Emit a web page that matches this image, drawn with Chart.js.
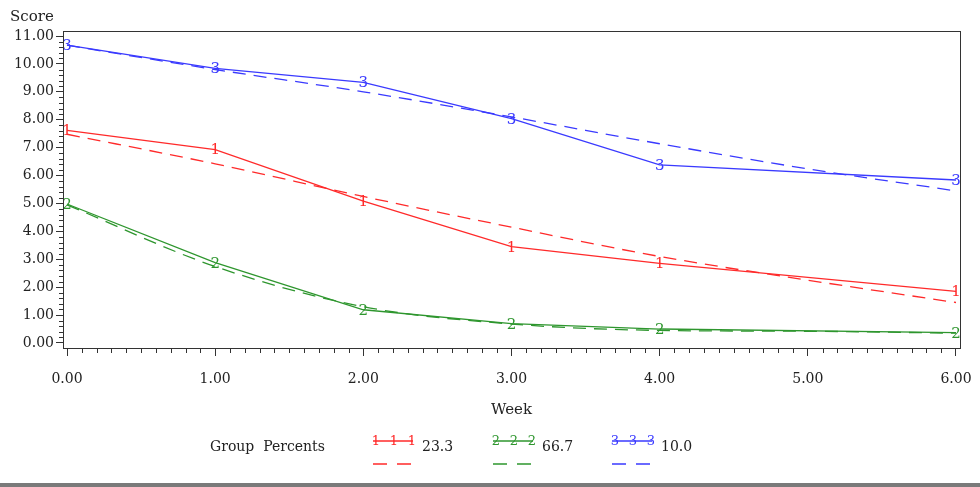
<!DOCTYPE html>
<html>
<head>
<meta charset="utf-8">
<script src="https://cdn.jsdelivr.net/npm/chart.js@4.4.0/dist/chart.umd.min.js"></script>
<style>
  html, body { margin: 0; padding: 0; background: #fff; overflow: hidden; }
  #wrap { width: 980px; height: 487px; position: relative; }
</style>
</head>
<body>
<div id="wrap"><canvas id="myChart" width="980" height="487"></canvas></div>
<script>
// observed group means (weeks 0-4 and 6)
const weeks = [0, 1, 2, 3, 4, 6];
const group1 = [7.62, 6.93, 5.08, 3.45, 2.85, 1.85];
const group2 = [4.98, 2.88, 1.19, 0.69, 0.50, 0.37];
const group3 = [10.67, 9.84, 9.34, 8.04, 6.38, 5.84];

// predicted trajectories (dashed)
const predWeeks = [0, 1, 2, 3, 4, 5, 6];
const pred1 = [7.48, 6.42, 5.25, 4.15, 3.10, 2.25, 1.45];
const pred2 = [4.95, 2.74, 1.30, 0.68, 0.45, 0.42, 0.35];
const pred3 = [10.67, 9.80, 9.00, 8.10, 7.14, 6.24, 5.45];

const groupNames = ['1', '2', '3'];
const groupPercents = ['23.3', '66.7', '10.0'];
const colors = ['#ff2a2a', '#2e962e', '#3a3aff'];

const xTicks = [0, 1, 2, 3, 4, 5, 6];
const yTicks = [0, 1, 2, 3, 4, 5, 6, 7, 8, 9, 10, 11];

const FONT = "'DejaVu Serif', serif";

const pts = (xs, ys) => xs.map((x, i) => ({x: x, y: ys[i]}));

const obs = [group1, group2, group3];
const preds = [pred1, pred2, pred3];

const datasets = [];
obs.forEach((d, i) => {
    datasets.push({
        label: groupNames[i],
        data: pts(weeks, d),
        borderColor: colors[i],
        borderWidth: 1.3,
        pointRadius: 0,
        marker: groupNames[i],
        tension: 0
    });
});
preds.forEach((d, i) => {
    datasets.push({
        label: 'pred' + groupNames[i],
        data: pts(predWeeks, d),
        borderColor: colors[i],
        borderWidth: 1.3,
        borderDash: [13, 8],
        pointRadius: 0,
        tension: 0.4,
        cubicInterpolationMode: 'monotone'
    });
});

// draws the frame, minor ticks, group number markers, titles and legend
const extras = {
    id: 'extras',
    afterDatasetsDraw(chart) {
        const ctx = chart.ctx;
        chart.data.datasets.forEach((ds, i) => {
            if (!ds.marker) return;
            const meta = chart.getDatasetMeta(i);
            ctx.save();
            ctx.fillStyle = ds.borderColor;
            ctx.font = "15px " + FONT;
            ctx.textAlign = 'center';
            ctx.textBaseline = 'middle';
            meta.data.forEach(el => ctx.fillText(ds.marker, el.x, el.y + 1));
            ctx.restore();
        });
    },
    afterDraw(chart) {
        const ctx = chart.ctx;
        const a = chart.chartArea;
        const xs = chart.scales.x, ys = chart.scales.y;
        ctx.save();
        ctx.strokeStyle = '#333';
        ctx.lineWidth = 1;
        ctx.strokeRect(a.left + 0.5, a.top + 0.5, a.right - a.left, a.bottom - a.top);

        // minor ticks
        ctx.beginPath();
        for (let k = 1; k < 60; k++) {
            if (k % 10 === 0) continue;
            const px = Math.round(xs.getPixelForValue(k / 10)) + 0.5;
            ctx.moveTo(px, a.bottom);
            ctx.lineTo(px, a.bottom + 5);
        }
        for (let k = 1; k < 55; k++) {
            if (k % 5 === 0) continue;
            const py = Math.round(ys.getPixelForValue(k / 5)) + 0.5;
            ctx.moveTo(a.left, py);
            ctx.lineTo(a.left - 4, py);
        }
        ctx.stroke();

        // axis titles
        ctx.fillStyle = '#222';
        ctx.font = "15px " + FONT;
        ctx.textBaseline = 'middle';
        ctx.textAlign = 'left';
        ctx.fillText('Score', 10, 17);
        ctx.textAlign = 'center';
        ctx.fillText('Week', (xs.left + xs.right) / 2, 410);

        // legend
        ctx.font = "14px " + FONT;
        ctx.textAlign = 'left';
        ctx.fillText('Group  Percents', 210, 447);
        const lx = [373, 493, 612];
        groupNames.forEach((g, i) => {
            const x0 = lx[i];
            ctx.strokeStyle = colors[i];
            ctx.lineWidth = 1.3;
            ctx.setLineDash([]);
            ctx.beginPath();
            ctx.moveTo(x0, 441);
            ctx.lineTo(x0 + 40, 441);
            ctx.stroke();
            ctx.fillStyle = colors[i];
            ctx.font = "13px " + FONT;
            ctx.textAlign = 'center';
            [3, 21, 39].forEach(o => ctx.fillText(g, x0 + o, 442));
            ctx.setLineDash([14, 10]);
            ctx.beginPath();
            ctx.moveTo(x0, 464);
            ctx.lineTo(x0 + 42, 464);
            ctx.stroke();
            ctx.setLineDash([]);
            ctx.fillStyle = '#222';
            ctx.font = "14px " + FONT;
            ctx.textAlign = 'left';
            ctx.fillText(groupPercents[i], x0 + 49, 447);
        });

        // bottom rule of the picture
        ctx.fillStyle = '#7a7a7a';
        ctx.fillRect(0, 483, 980, 4);
        ctx.restore();
    }
};

new Chart(document.getElementById('myChart').getContext('2d'), {
    type: 'line',
    data: { datasets: datasets },
    plugins: [extras],
    options: {
        responsive: false,
        animation: false,
        devicePixelRatio: 1,
        layout: { padding: { top: 31, right: 20, left: 0, bottom: 0 } },
        plugins: { legend: { display: false }, tooltip: { enabled: false } },
        scales: {
            x: {
                type: 'linear',
                min: -0.027,
                max: 6.027,
                afterBuildTicks: s => { s.ticks = xTicks.map(v => ({value: v})); },
                afterFit: s => { s.height = 139; s.paddingLeft = 0; s.paddingRight = 0; },
                ticks: {
                    callback: v => v.toFixed(2),
                    color: '#222',
                    font: { family: FONT, size: 14 },
                    padding: 15,
                    maxRotation: 0
                },
                grid: { drawOnChartArea: false, tickLength: 8, color: '#333' },
                border: { color: '#333' }
            },
            y: {
                min: -0.18,
                max: 11.18,
                afterBuildTicks: s => { s.ticks = yTicks.map(v => ({value: v})); },
                afterFit: s => { s.width = 63; s.paddingTop = 0; s.paddingBottom = 0; },
                ticks: {
                    callback: v => v.toFixed(2),
                    color: '#222',
                    font: { family: FONT, size: 14 },
                    padding: 2
                },
                grid: { drawOnChartArea: false, tickLength: 7, color: '#333' },
                border: { color: '#333' }
            }
        }
    }
});
</script>
</body>
</html>
